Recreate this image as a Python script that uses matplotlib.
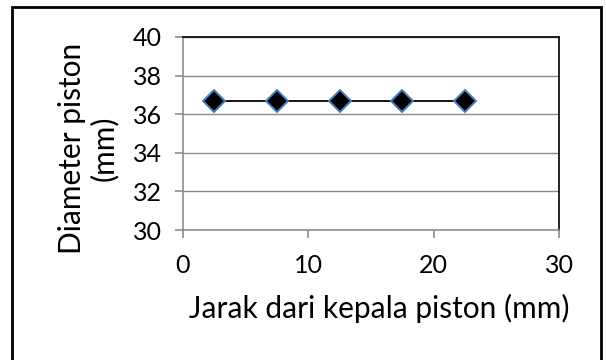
import matplotlib
matplotlib.use("Agg")
import matplotlib.pyplot as plt
from matplotlib.patches import Rectangle

# distance from piston head (mm) and measured piston diameter (mm)
jarak = [2.5, 7.5, 12.5, 17.5, 22.5]
diameter = [36.7, 36.7, 36.7, 36.7, 36.7]

x_ticks = [0, 10, 20, 30]
y_ticks = [30, 32, 34, 36, 38, 40]

plt.rcParams["font.family"] = ["Lato", "DejaVu Sans"]

fig = plt.figure(figsize=(6.06, 3.6), dpi=100)
ax = fig.add_axes([183 / 606, 1 - 230 / 360, 376 / 606, 193 / 360])

ax.plot(jarak, diameter, color="black", lw=1.3, marker="D", ms=11.5,
        mfc="black", mec="#4a7ebb", mew=1.4, zorder=3)

ax.set_xlim(0, 30)
ax.set_ylim(30, 40)
ax.set_xticks(x_ticks)
ax.set_yticks(y_ticks)
ax.grid(axis="y", color="#8c8c8c", lw=1)
ax.set_axisbelow(True)

for side in ("left", "bottom"):
    ax.spines[side].set_color("#8c8c8c")
    ax.spines[side].set_linewidth(1.2)
for side in ("top", "right"):
    ax.spines[side].set_color("black")
    ax.spines[side].set_linewidth(1.2)

ax.tick_params(axis="both", direction="out", length=6, width=1.2,
               color="#8c8c8c", labelsize=18, pad=9)
ax.tick_params(axis="x", pad=11)

ax.set_xlabel("Jarak dari kepala piston (mm)", fontsize=21.5, va="center")
ax.xaxis.set_label_coords(0.521, -0.405)
ax.set_ylabel("Diameter piston\n(mm)", fontsize=21.5, linespacing=1.15)
ax.yaxis.set_label_coords(-0.173, 0.425)

# frame around the whole chart
fig.patches.append(Rectangle((12 / 606, -0.05), 589 / 606, 1.05 - 7 / 360,
                             transform=fig.transFigure, fill=False,
                             ec="black", lw=2, clip_on=False))

fig.savefig("out.png", dpi=100)
